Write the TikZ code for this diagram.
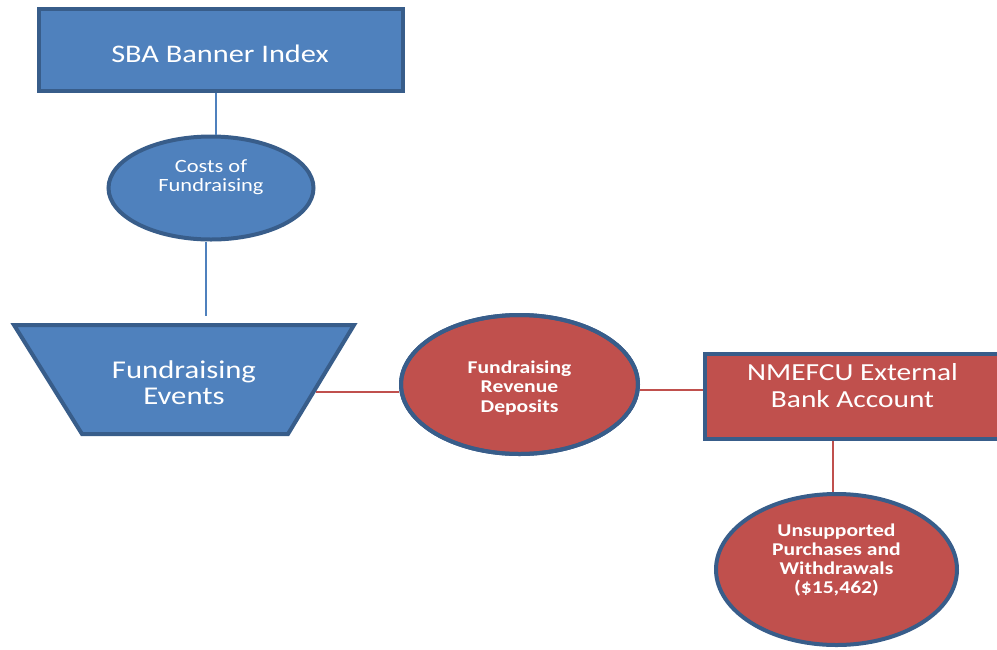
\documentclass[tikz,border=0pt]{standalone}
\usepackage{fontspec}
\newfontfamily\calfnt[FakeStretch=1.2]{Carlito}
\usetikzlibrary{shapes.geometric}
\definecolor{bfill}{HTML}{4F81BD}
\definecolor{bline}{HTML}{385D8A}
\definecolor{rfill}{HTML}{C0504D}
\tikzset{
  bluebox/.style={draw=bline, fill=bfill, line width=4pt, rectangle, inner sep=0pt},
  redbox/.style={draw=bline, fill=rfill, line width=4pt, rectangle, inner sep=0pt},
  blueell/.style={draw=bline, fill=bfill, line width=4pt, ellipse, inner sep=0pt},
  redell/.style={draw=bline, fill=rfill, line width=4pt, ellipse, inner sep=0pt},
  txt/.style={text=white, align=center, inner sep=0pt, font=\calfnt},
  boldtxt/.style={text=white, align=center, inner sep=0pt, font=\calfnt\bfseries\fontsize{18}{19.3}\selectfont},
  bconn/.style={draw=bfill, line width=2pt},
  rconn/.style={draw=rfill, line width=2pt}
}
\begin{document}
\begin{tikzpicture}[x=1pt,y=-1pt]
\useasboundingbox (0,0) rectangle (997,649);
% SBA Banner Index
\node[bluebox, minimum width=364pt, minimum height=82pt] (sba) at (221,50) {};
\node[txt, font=\calfnt\fontsize{25.3}{27}\selectfont] (sbatxt) at (220,54) {SBA Banner Index};
% Costs of Fundraising
\node[blueell, minimum width=205pt, minimum height=103pt] (cost) at (211,188) {};
\node[txt, font=\calfnt\fontsize{18.7}{19}\selectfont] (costtxt) at (211,177) {Costs of\\Fundraising};
% Fundraising Events trapezoid
\coordinate (tl) at (14,325);
\coordinate (tr) at (354,325);
\coordinate (br) at (288,434);
\coordinate (bl) at (82,434);
\draw[draw=bline, fill=bfill, line width=4pt, line join=miter] (tl) -- (tr) -- (br) -- (bl) -- cycle;
\node[txt, font=\calfnt\fontsize{25.6}{26}\selectfont] (events) at (184,383) {Fundraising\\Events};
\coordinate (evR) at (316,392);
\coordinate (evTop) at (206,316);
% Fundraising Revenue Deposits
\node[redell, minimum width=237pt, minimum height=139pt] (rev) at (519.5,384.5) {};
\node[boldtxt] (revtxt) at (519.5,388) {Fundraising\\Revenue\\Deposits};
% NMEFCU External Bank Account
\node[redbox, minimum width=295pt, minimum height=85pt] (bank) at (852.5,396.5) {};
\node[txt, font=\calfnt\fontsize{24.5}{27}\selectfont] (banktxt) at (852.5,386) {NMEFCU External\\Bank Account};
% Unsupported
\node[redell, minimum width=241pt, minimum height=151pt] (uns) at (836.5,569.5) {};
\node[boldtxt] (unstxt) at (836.5,560) {Unsupported\\Purchases and\\Withdrawals\\(\$15,462)};
% connectors
\draw[bconn] (216,0 |- sba.south) -- (216,0 |- cost.north);
\draw[bconn] ([xshift=-5pt]cost.south) -- (evTop);
\draw[rconn] (evR) -- (evR -| rev.west);
\draw[rconn] ([yshift=-5pt]rev.east) -- ([yshift=-5pt]rev.east -| bank.west);
\draw[rconn] (bank.south -| 833,0) -- (uns.north -| 833,0);
% redraw ellipse border over connector ends
\node[redell, minimum width=237pt, minimum height=139pt, fill=none] at (519.5,384.5) {};
\end{tikzpicture}
\end{document}
